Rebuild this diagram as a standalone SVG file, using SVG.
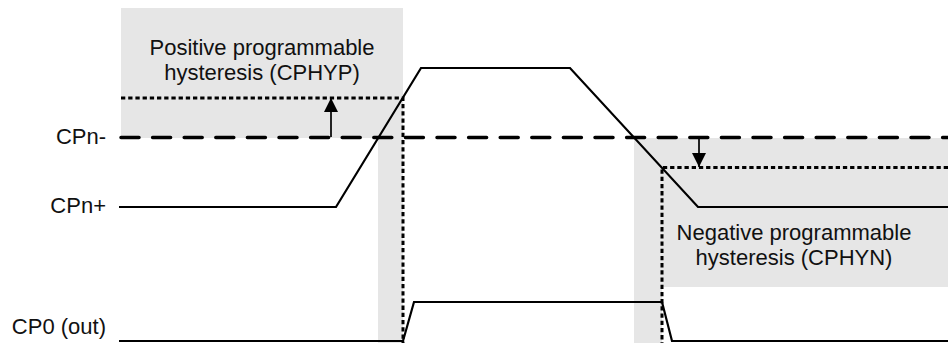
<svg xmlns="http://www.w3.org/2000/svg" width="948" height="343" viewBox="0 0 948 343">
<style>
.bg{fill:#e6e6e6;stroke:none}
.sig{fill:none;stroke:#000;stroke-width:2.2;stroke-linejoin:miter}
.dash{fill:none;stroke:#000;stroke-width:3.5;stroke-dasharray:18 13.6;stroke-linecap:round}
.dot{fill:none;stroke:#000;stroke-width:3;stroke-dasharray:4.3 2.9}
.arr{fill:none;stroke:#000;stroke-width:1.7}
text{font-family:"Liberation Sans",Arial,sans-serif;font-size:22px;fill:#111}
.lbl{text-anchor:end}
.mid{text-anchor:middle}
</style>
<defs>
<marker id="ah" markerUnits="userSpaceOnUse" markerWidth="15" markerHeight="15" refX="14" refY="7" orient="auto">
<path d="M0,0 L14,7 L0,14 z" fill="#000"/>
</marker>
</defs>
<g id="hysteresis-areas">
<rect class="bg" x="121" y="8" width="282" height="130"/>
<rect class="bg" x="378" y="137" width="25" height="206"/>
<rect class="bg" x="634" y="138" width="314" height="149"/>
<rect class="bg" x="634" y="286" width="28" height="57"/>
</g>
<g id="labels">
<text class="lbl" x="106" y="144">CPn-</text>
<text class="lbl" x="106" y="213">CPn+</text>
<text class="lbl" x="106" y="334">CP0 (out)</text>
</g>
<g id="pos-hyst-label">
<text class="mid" x="262" y="55">Positive programmable</text>
<text class="mid" x="262" y="80">hysteresis (CPHYP)</text>
</g>
<g id="neg-hyst-label">
<text class="mid" x="794" y="240">Negative programmable</text>
<text class="mid" x="794" y="265">hysteresis (CPHYN)</text>
</g>
<g id="signals">
<line class="dash" x1="121" y1="137.5" x2="948" y2="137.5"/>
<polyline class="sig" points="119,207 336,207 421,68 570,68 698,207 948,207"/>
<polyline class="sig" stroke-width="2.5" points="119,341 403,341 414,302 662,302 672,341 948,341"/>
</g>
<g id="thresholds">
<polyline class="dot" points="121,98 403,98 403,343"/>
<polyline class="dot" points="948,167.5 662,167.5 662,343"/>
</g>
<g id="connectors">
<line class="arr" x1="331" y1="137" x2="331" y2="98" marker-end="url(#ah)"/>
<line class="arr" x1="699" y1="138" x2="699" y2="167" marker-end="url(#ah)"/>
</g>
</svg>
